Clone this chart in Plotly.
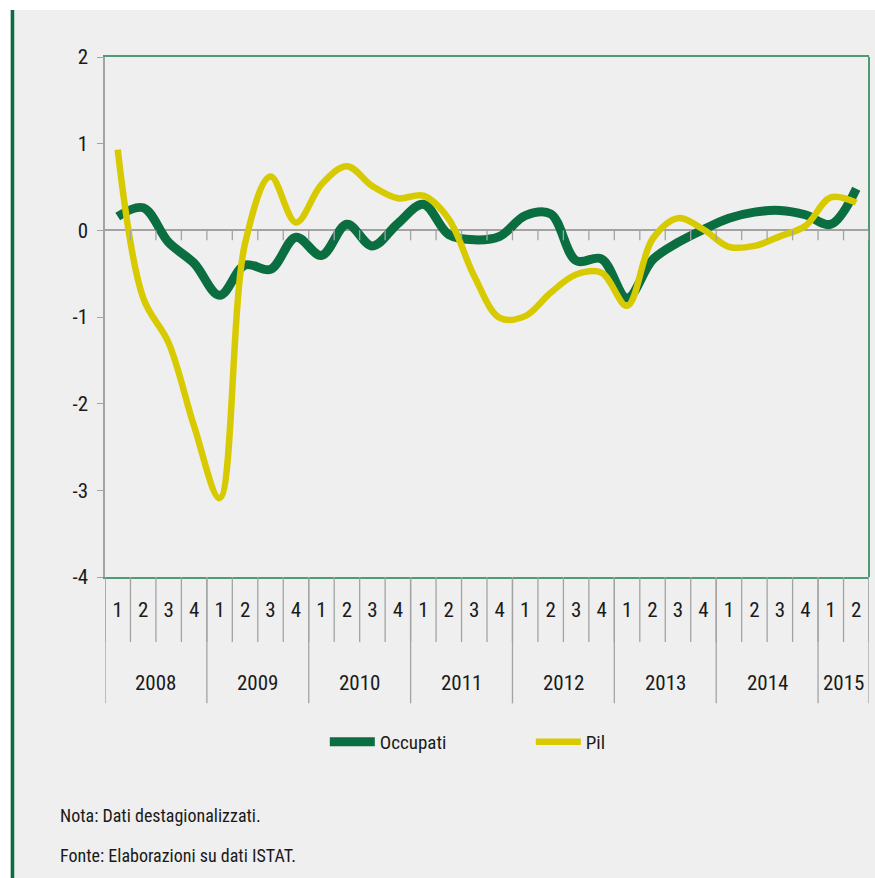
import plotly.graph_objects as go

quarters = ["1", "2", "3", "4"] * 7 + ["1", "2"]
years = ["2008", "2009", "2010", "2011", "2012", "2013", "2014", "2015"]
quarters_per_year = [4, 4, 4, 4, 4, 4, 4, 2]

occupati = [0.16, 0.26, -0.14, -0.38, -0.75, -0.40, -0.45, -0.08, -0.29, 0.07,
            -0.18, 0.08, 0.30, -0.05, -0.11, -0.07, 0.17, 0.19, -0.35, -0.33,
            -0.78, -0.34, -0.14, 0.01, 0.14, 0.21, 0.23, 0.18, 0.07, 0.48]
pil = [0.93, -0.78, -1.30, -2.26, -3.09, -0.15, 0.62, 0.09, 0.53, 0.74,
       0.51, 0.37, 0.40, 0.13, -0.53, -1.01, -0.99, -0.72, -0.51, -0.49,
       -0.87, -0.10, 0.14, 0.01, -0.19, -0.18, -0.07, 0.05, 0.38, 0.32]

y_ticks = [-4, -3, -2, -1, 0, 1, 2]
y_ticktext = ["-4", "-3", "-2", "-1", "0", "1", "2"]

note_lines = ["Nota: Dati destagionalizzati.", "Fonte: Elaborazioni su dati ISTAT."]

GREEN = "#0b6e41"
YELLOW = "#d8ca00"
BORDER = "#4f9c74"
GRAY = "#a3a3a3"
BG = "#efefef"
TXT = "#1a1a1a"
FONT = "Roboto Condensed, Liberation Sans, sans-serif"

x = list(range(len(quarters)))

fig = go.Figure()
fig.add_trace(go.Scatter(x=x, y=occupati, mode="lines", name="Occupati",
                         line=dict(color=GREEN, width=9, shape="spline", smoothing=1.0)))
fig.add_trace(go.Scatter(x=x, y=pil, mode="lines", name="Pil",
                         line=dict(color=YELLOW, width=6.5, shape="spline", smoothing=1.0)))

shapes = []
# white page edges (top and left)
shapes.append(dict(type="rect", xref="paper", yref="paper", x0=-0.2, x1=1.1,
                   y0=1.0904, y1=1.2, fillcolor="white", line=dict(width=0), layer="below"))
shapes.append(dict(type="rect", xref="paper", yref="paper", x0=-0.2, x1=-0.1243,
                   y0=-0.7, y1=1.2, fillcolor="white", line=dict(width=0), layer="below"))
# green vertical bar at the left edge
shapes.append(dict(type="line", xref="paper", yref="paper", x0=-0.1211, x1=-0.1211,
                   y0=-0.7, y1=1.0904, line=dict(color=GREEN, width=3.5)))
# right border of the plot area
shapes.append(dict(type="line", xref="paper", yref="paper", x0=1, x1=1, y0=0, y1=1,
                   line=dict(color=BORDER, width=2)))
# ticks hanging from the zero line at quarter boundaries
for k in range(1, len(quarters) + 1):
    xb = k - 0.5
    shapes.append(dict(type="line", xref="x", yref="y", ysizemode="pixel", yanchor=0,
                       x0=xb, x1=xb, y0=0, y1=-10, line=dict(color=GRAY, width=1.3)))
# quarter separators below the plot
for k in range(0, len(quarters) + 1):
    xb = k - 0.5
    shapes.append(dict(type="line", xref="x", yref="paper", x0=xb, x1=xb, y0=0, y1=-0.125,
                       line=dict(color=GRAY, width=1.3)))
# year separators and year labels
annotations = []
start = 0
for yr, n in zip(years, quarters_per_year):
    shapes.append(dict(type="line", xref="x", yref="paper", x0=start - 0.5, x1=start - 0.5,
                       y0=0, y1=-0.243, line=dict(color=GRAY, width=1.3)))
    annotations.append(dict(x=start + (n - 1) / 2, y=-0.204, xref="x", yref="paper",
                            text=yr, showarrow=False, xanchor="center", yanchor="middle",
                            font=dict(family=FONT, size=21, color=TXT)))
    start += n
shapes.append(dict(type="line", xref="x", yref="paper", x0=start - 0.5, x1=start - 0.5,
                   y0=0, y1=-0.243, line=dict(color=GRAY, width=1.3)))

for i, t in enumerate(note_lines):
    annotations.append(dict(x=-0.0615, y=-0.458 - 0.077 * i, xref="paper", yref="paper",
                            text=t, showarrow=False, xanchor="left", yanchor="middle",
                            font=dict(family=FONT, size=18, color=TXT)))

fig.update_layout(
    width=875, height=878,
    margin=dict(l=105, r=6, t=57, b=301),
    paper_bgcolor=BG, plot_bgcolor=BG,
    font=dict(family=FONT, size=21, color=TXT),
    showlegend=True,
    legend=dict(orientation="h", x=0.2877, y=-0.317, xanchor="left", yanchor="middle",
                entrywidth=146, entrywidthmode="pixels", itemwidth=45,
                font=dict(family=FONT, size=19, color=TXT),
                bgcolor="rgba(0,0,0,0)"),
    shapes=shapes,
    annotations=annotations,
    xaxis=dict(range=[-0.5, len(quarters) - 0.5], tickvals=x, ticktext=quarters,
               showgrid=False, zeroline=False, showline=True, linecolor=BORDER,
               linewidth=2, mirror=True, ticks="", ticklabelstandoff=13,
               tickfont=dict(family=FONT, size=21, color=TXT)),
    yaxis=dict(range=[-4, 2], tickvals=y_ticks, ticktext=y_ticktext,
               showgrid=False, zeroline=True, zerolinecolor=GRAY, zerolinewidth=2,
               showline=True, linecolor=GRAY, linewidth=1.5, ticks="outside",
               ticklen=6, tickcolor=GRAY, ticklabelstandoff=5,
               tickfont=dict(family=FONT, size=21, color=TXT)),
)

fig.write_html("out.html", config={"displayModeBar": False},
               post_script="document.body.style.margin='0';document.body.style.overflow='hidden';")
